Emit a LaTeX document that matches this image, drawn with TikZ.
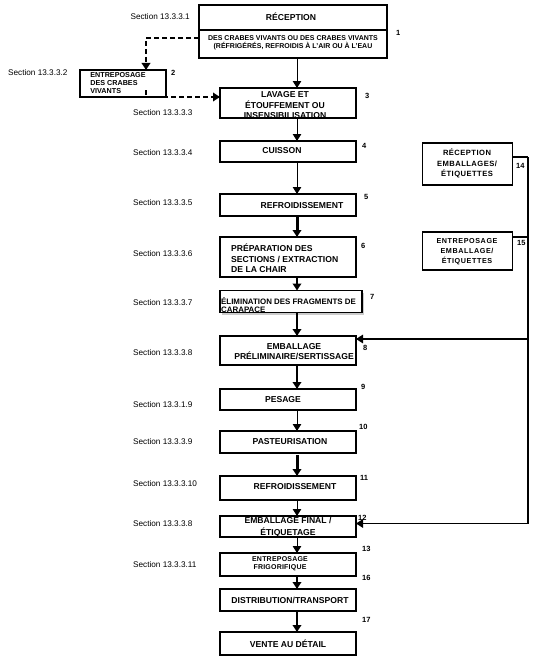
\documentclass[tikz,border=0pt]{standalone}
\usepackage{fontspec}
\setmainfont{Liberation Sans}
\usetikzlibrary{arrows.meta,shadows}
\begin{document}
\begin{tikzpicture}[x=1pt,y=-1pt,
  box/.style={draw, line width=1.8pt, inner sep=0pt, outer sep=0pt},
  txt/.style={inner sep=0pt, font=\bfseries\fontsize{8.6}{10.5}\selectfont, align=center},
  ltxt/.style={inner sep=0pt, font=\bfseries\fontsize{8.6}{10.5}\selectfont, align=left},
  small/.style={inner sep=0pt, font=\bfseries\fontsize{7.2}{8}\selectfont, align=left},
  csmall/.style={inner sep=0pt, font=\bfseries\fontsize{7.6}{10.5}\selectfont\addfontfeature{LetterSpace=6}, align=center},
  sec/.style={inner sep=0pt, anchor=west, font=\fontsize{8.2}{9}\selectfont},
  num/.style={inner sep=0pt, anchor=west, font=\bfseries\fontsize{7.5}{9}\selectfont},
  conn/.style={line width=1.4pt},
  tip/.style={-{Triangle[width=8.5pt,length=7pt]}},
  varr/.style={tip, line width=1pt},
  marr/.style={tip, line width=2pt},
  tarr/.style={tip, line width=3pt},
  harr/.style={tip, line width=1.4pt},
  dsh/.style={tip, line width=1.9pt, dash pattern=on 5pt off 3pt},
]
\useasboundingbox (0,0) rectangle (536,661);
\fill[white] (0,0) rectangle (536,661);

% boxes
\node[box, minimum width=188pt, minimum height=25pt] (reca) at (293,17.5) {};
\node[box, minimum width=188pt, minimum height=28pt] (recb) at (293,44) {};
\node[box, minimum width=86pt, minimum height=27pt] (entc) at (123,83.5) {};
\node[box, minimum width=136pt, minimum height=30pt] (lav) at (288,103) {};
\node[box, minimum width=136pt, minimum height=21pt] (cuis) at (288,151.5) {};
\node[box, minimum width=136pt, minimum height=22pt] (refr) at (288,205) {};
\node[box, minimum width=136pt, minimum height=40pt] (prep) at (288,257) {};
\node[box, minimum width=142pt, minimum height=22pt, drop shadow={shadow xshift=2pt, shadow yshift=-2pt, fill=gray!80}, fill=white] (elim) at (291,301.5) {};
\node[box, minimum width=136pt, minimum height=29pt] (embp) at (288,350.5) {};
\node[box, minimum width=136pt, minimum height=21pt] (pes) at (288,399.5) {};
\node[box, minimum width=136pt, minimum height=22pt] (past) at (288,442) {};
\node[box, minimum width=136pt, minimum height=24pt] (refr2) at (288,488) {};
\node[box, minimum width=136pt, minimum height=21pt] (embf) at (288,526.5) {};
\node[box, minimum width=136pt, minimum height=23pt] (frigo) at (288,564.5) {};
\node[box, minimum width=136pt, minimum height=22pt] (dist) at (288,600) {};
\node[box, minimum width=136pt, minimum height=23pt] (vente) at (288,643.5) {};
\node[box, minimum width=90pt, minimum height=42pt] (recemb) at (467.5,164) {};
\node[box, minimum width=90pt, minimum height=38pt] (entemb) at (467.5,251) {};

% box texts
\node[txt] (t1) at (291,17) {RÉCEPTION};
\node[inner sep=0pt, font=\bfseries\fontsize{7}{8}\selectfont, align=center] (t1b) at (293,43) {DES CRABES VIVANTS OU DES CRABES VIVANTS\\(RÉFRIGÉRÉS, REFROIDIS À L'AIR OU À L'EAU};
\node[small] (t2) at (118,83.5) {ENTREPOSAGE\\DES CRABES\\VIVANTS};
\node[txt] (t3) at (285,105.5) {LAVAGE ET\\ÉTOUFFEMENT OU\\INSENSIBILISATION};
\node[txt] (t4) at (282,151) {CUISSON};
\node[txt] (t5) at (302,206) {REFROIDISSEMENT};
\node[ltxt, anchor=west] (t6) at (231,258.5) {PRÉPARATION DES\\SECTIONS / EXTRACTION\\DE LA CHAIR};
\node[ltxt, anchor=west, font=\bfseries\fontsize{7.9}{8.8}\selectfont] (t7) at (221,305) {ÉLIMINATION DES FRAGMENTS DE\\CARAPACE};
\node[txt] (t8) at (294,351.5) {EMBALLAGE\\PRÉLIMINAIRE/SERTISSAGE};
\node[txt] (t9) at (283,400) {PESAGE};
\node[txt] (t10) at (290,442) {PASTEURISATION};
\node[txt] (t11) at (295,487) {REFROIDISSEMENT};
\node[txt, font=\bfseries\fontsize{8.6}{11.5}\selectfont] (t12) at (288,527) {EMBALLAGE FINAL /\\ÉTIQUETAGE};
\node[inner sep=0pt, font=\bfseries\fontsize{7}{8.5}\selectfont\addfontfeature{LetterSpace=3}, align=center] (t13) at (280,563.5) {ENTREPOSAGE\\FRIGORIFIQUE};
\node[txt] (t16) at (290,600) {DISTRIBUTION/TRANSPORT};
\node[txt] (t17) at (288,644) {VENTE AU DÉTAIL};
\node[csmall] (t14) at (467,163.5) {RÉCEPTION\\EMBALLAGES/\\ÉTIQUETTES};
\node[csmall, font=\bfseries\fontsize{7.2}{10}\selectfont\addfontfeature{LetterSpace=8}] (t15) at (467,252) {ENTREPOSAGE\\EMBALLAGE/\\ÉTIQUETTES};

% section labels
\node[sec, anchor=east] (s1) at (190,17) {Section 13.3.3.1};
\node[sec] (s2) at (8,73) {Section 13.3.3.2};
\node[sec] (s3) at (133,113) {Section 13.3.3.3};
\node[sec] (s4) at (133,153) {Section 13.3.3.4};
\node[sec] (s5) at (133,203) {Section 13.3.3.5};
\node[sec] (s6) at (133,254) {Section 13.3.3.6};
\node[sec] (s7) at (133,303) {Section 13.3.3.7};
\node[sec] (s8) at (133,353) {Section 13.3.3.8};
\node[sec] (s9) at (133,405) {Section 13.3.1.9};
\node[sec] (s10) at (133,442) {Section 13.3.3.9};
\node[sec] (s11) at (133,484) {Section 13.3.3.10};
\node[sec] (s12) at (133,524) {Section 13.3.3.8};
\node[sec] (s13) at (133,565) {Section 13.3.3.11};

% numbers
\node[num] (n1) at (396,33) {1};
\node[num] (n2) at (171,73) {2};
\node[num] (n3) at (365,96) {3};
\node[num] (n4) at (362,146) {4};
\node[num] (n5) at (364,197) {5};
\node[num] (n6) at (361,246) {6};
\node[num] (n7) at (370,297) {7};
\node[num] (n8) at (363,348) {8};
\node[num] (n9) at (361,387) {9};
\node[num] (n10) at (359,427) {10};
\node[num] (n11) at (360,478) {11};
\node[num] (n12) at (358,518) {12};
\node[num] (n13) at (362,549) {13};
\node[num] (n14) at (516,166) {14};
\node[num] (n15) at (517,243) {15};
\node[num] (n16) at (362,578) {16};
\node[num] (n17) at (362,620) {17};

% vertical flow arrows
\coordinate (ax) at (297,0);
\draw[varr] (recb.south -| ax) -- (lav.north -| ax);
\draw[varr] (lav.south -| ax) -- (cuis.north -| ax);
\draw[varr] (cuis.south -| ax) -- (refr.north -| ax);
\draw[tarr] (refr.south -| ax) -- (prep.north -| ax);
\draw[marr] (prep.south -| ax) -- (elim.north -| ax);
\draw[marr] (elim.south -| ax) -- (embp.north -| ax);
\draw[marr] (embp.south -| ax) -- (pes.north -| ax);
\draw[varr] (pes.south -| ax) -- (past.north -| ax);
\draw[tarr] ([yshift=-2pt]past.south -| ax) -- (refr2.north -| ax);
\draw[varr] (refr2.south -| ax) -- (embf.north -| ax);
\draw[varr] (embf.south -| ax) -- (frigo.north -| ax);
\draw[marr] (frigo.south -| ax) -- (dist.north -| ax);
\draw[marr] (dist.south -| ax) -- (vente.north -| ax);

% dashed arrows
\coordinate (dx) at (146,0);
\draw[dsh] ([yshift=6pt]recb.west) -| (dx |- entc.north);
\draw[dsh] ([yshift=7pt]dx |- entc.south) |- ([yshift=6pt]lav.west);

% right bus
\coordinate (bus) at (528,0);
\draw[conn] ([yshift=-14pt]recemb.north east) coordinate (b1) -- (b1 -| bus);
\draw[conn] ([yshift=-5pt]entemb.north east) coordinate (b2) -- (b2 -| bus);
\draw[harr] (b1 -| bus) |- ([yshift=3pt]embf.east);
\draw[harr] (bus |- embp.north) ++(0,3) coordinate (b3) -- (b3 -| embp.east);
\end{tikzpicture}
\end{document}
